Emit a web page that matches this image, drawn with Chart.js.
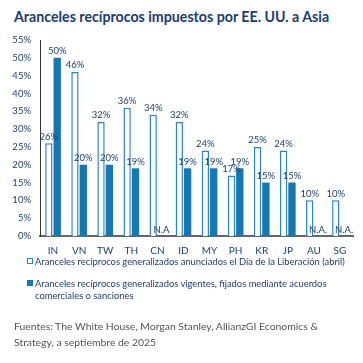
<!DOCTYPE html>
<html>
<head>
<meta charset="utf-8">
<script src="https://cdn.jsdelivr.net/npm/chart.js@4"></script>
<style>
  html, body { margin:0; padding:0; background:#fff; width:363px; height:363px; overflow:hidden; font-family: Lato, "Open Sans", sans-serif; }
  #title { position:absolute; left:14px; top:8px; font-weight:700; font-size:14.2px; color:#1a3c72; white-space:nowrap; }
  #wrap { position:absolute; left:0; top:0; width:363px; height:266px; }
  .leg { position:absolute; left:27px; font-size:9.4px; color:#1f3f6e; line-height:12px; }
  .leg .sw { position:absolute; left:0; top:2px; width:6px; height:6px; box-sizing:border-box; }
  .leg span.t { display:block; padding-left:8px; }
  #src { position:absolute; left:14px; top:318px; font-size:10.4px; color:#555; line-height:16px; }
</style>
</head>
<body>
<div id="title">Aranceles recíprocos impuestos por EE. UU. a Asia</div>
<div id="wrap"><canvas id="c" width="363" height="266"></canvas></div>
<div class="leg" style="top:256px;"><div class="sw" style="border:1px solid #2a86bf;background:#fff"></div><span class="t">Aranceles recíprocos generalizados anunciados el Día de la Liberación (abril)</span></div>
<div class="leg" style="top:278px;width:320px;"><div class="sw" style="background:#1778b0"></div><span class="t">Aranceles recíprocos generalizados vigentes, fijados mediante acuerdos comerciales o sanciones</span></div>
<div id="src">Fuentes: The White House, Morgan Stanley, AllianzGI Economics &amp;<br>Strategy, a septiembre de 2025</div>
<script>
const categories = ["IN","VN","TW","TH","CN","ID","MY","PH","KR","JP","AU","SG"];
const announced = [26,46,32,36,34,32,24,17,25,24,10,10];
const current = [50,20,20,19,null,19,19,19,15,15,null,null];
const naLabels = ["","","","","N.A","","","","","","N.A.","N.A."];
const yTicks = [0,5,10,15,20,25,30,35,40,45,50,55];

const labelPlugin = {
  id: 'vals',
  afterDatasetsDraw(chart) {
    const ctx = chart.ctx;
    ctx.save();
    ctx.font = '9.5px Lato, "Open Sans", sans-serif';
    ctx.fillStyle = '#1f3f6e';
    ctx.textAlign = 'center';
    ctx.textBaseline = 'bottom';
    chart.data.datasets.forEach((ds, di) => {
      const meta = chart.getDatasetMeta(di);
      meta.data.forEach((bar, i) => {
        const v = ds.data[i];
        if (v === null) {
          if (di === 1 && naLabels[i]) {
            const y0 = chart.scales.y.getPixelForValue(0);
            ctx.fillText(naLabels[i], bar.x, y0 - 1);
          }
          return;
        }
        ctx.fillText(v + '%', bar.x, bar.y - 2);
      });
    });
    ctx.restore();
  }
};

new Chart(document.getElementById('c'), {
  type: 'bar',
  data: {
    labels: categories,
    datasets: [
      { data: announced, backgroundColor: '#ffffff', borderColor: '#2a86bf', borderWidth: 1.5, borderSkipped: 'bottom',
        categoryPercentage: 0.64, barPercentage: 0.88 },
      { data: current, backgroundColor: '#1778b0', borderWidth: 0,
        categoryPercentage: 0.64, barPercentage: 0.88 }
    ]
  },
  options: {
    responsive: false,
    animation: false,
    layout: { padding: { top: 40, right: 10, left: 0, bottom: 0 } },
    plugins: { legend: { display: false }, tooltip: { enabled: false } },
    scales: {
      x: {
        grid: { display: false, drawTicks: false },
        border: { display: true, color: '#666', width: 2 },
        ticks: { color: '#1f3f6e', font: { size: 10, family: 'Lato, "Open Sans", sans-serif' }, padding: 9, maxRotation: 0 }
      },
      y: {
        min: 0, max: 55,
        afterBuildTicks(s) { s.ticks = yTicks.map(v => ({ value: v })); },
        afterFit(s) { s.width = 40; },
        grid: { display: false, drawTicks: false },
        border: { display: true, color: '#333', width: 1 },
        ticks: { color: '#1f3f6e', font: { size: 9.5, family: 'Lato, "Open Sans", sans-serif' }, padding: 9, callback: v => v + '%' }
      }
    }
  },
  plugins: [labelPlugin]
});
</script>
</body>
</html>
